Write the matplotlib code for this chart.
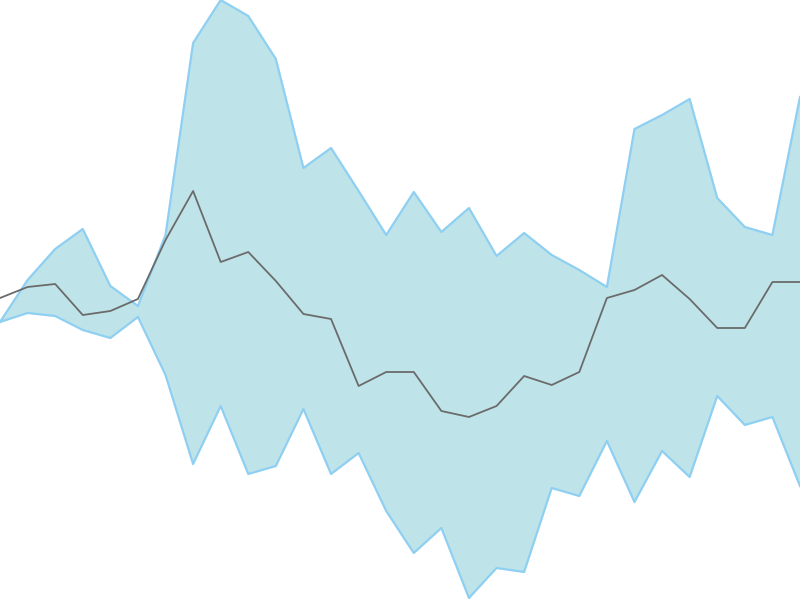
import matplotlib
matplotlib.use("Agg")
import matplotlib.pyplot as plt

# band, in screen-style units (0 = bottom, 600 = top)
steps = list(range(30))
upper = [278, 320, 351, 371, 314, 294, 365, 557, 600, 584, 541, 432, 452, 409, 365,
         408, 368, 392, 344, 367, 345, 330, 313, 471, 485, 501, 402, 373, 365, 503]
lower = [278, 287, 284, 270, 262, 283, 225, 136, 194, 126, 134, 191, 126, 147, 89,
         47, 72, 2, 32, 28, 112, 104, 159, 98, 149, 123, 204, 175, 183, 114]
mean = [302, 313, 316, 285, 289, 301, 360, 409, 338, 348, 319, 286, 281, 214, 228,
        228, 189, 183, 194, 224, 215, 228, 302, 310, 325, 301, 272, 272, 318, 318]


def main():
    fig = plt.figure(figsize=(8, 6), dpi=100)
    ax = fig.add_axes([0, 0, 1, 1])

    ax.fill_between(steps, lower, upper, color="#bee4e9", linewidth=0)
    ax.plot(steps, upper, color="#8ecff2", linewidth=1.6)
    ax.plot(steps, lower, color="#8ecff2", linewidth=1.6)
    ax.plot(steps, mean, color="#6b6b6b", linewidth=1.3)

    ax.set_xlim(0, 29)
    ax.set_ylim(0, 600)
    ax.axis("off")

    fig.savefig("out.png", dpi=100)


if __name__ == '__main__':
    main()
